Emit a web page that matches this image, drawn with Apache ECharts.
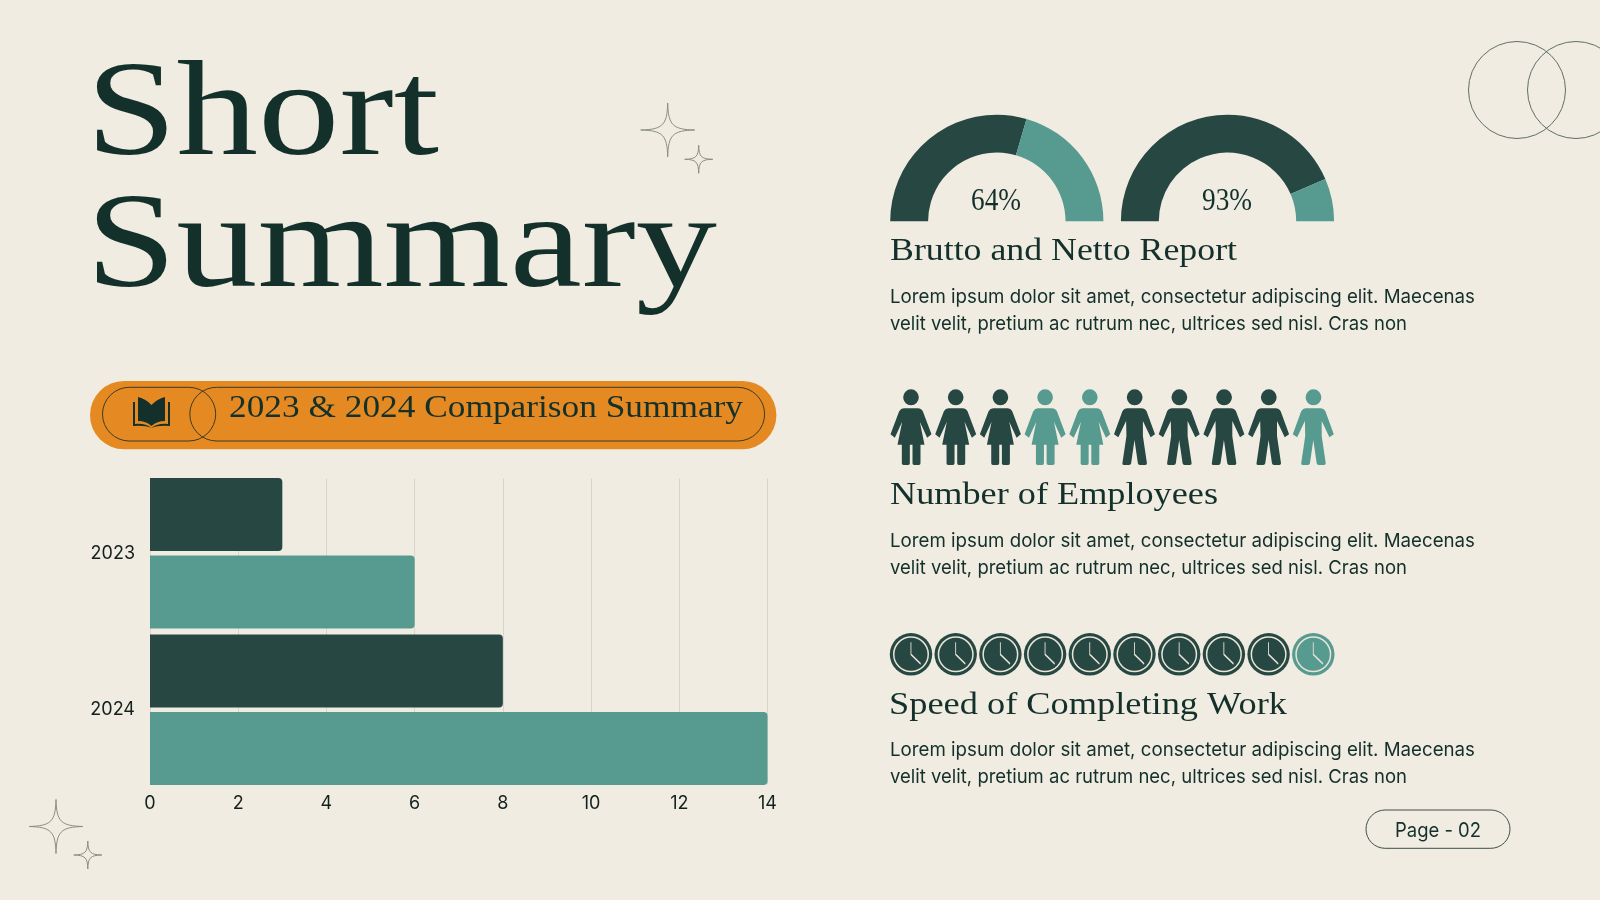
<!DOCTYPE html>
<html><head><meta charset="utf-8">
<style>html,body{margin:0;padding:0;background:#f1ece2}#c{width:1600px;height:900px}</style>
<script src="https://cdn.jsdelivr.net/npm/echarts@6/dist/echarts.min.js"></script>
</head><body><div id="c"></div>
<script>
// ---- data ----
var years = ['2023', '2024'];
var darkValues = [3, 8];
var lightValues = [6, 14];
var xTicksMax = 14;
var xTickStep = 2;
var gaugeOneValues = [59, 41];
var gaugeTwoValues = [87, 13];
var gaugeLabels = ['64%', '93%'];
var employeeKinds = ['f','f','f','f','f','m','m','m','m','m'];
var employeeShades = ['d','d','d','l','l','d','d','d','d','l'];
var clockShades = ['d','d','d','d','d','d','d','d','d','l'];
var titleLines = ['Short', 'Summary'];
var bannerText = '2023 & 2024 Comparison Summary';
var sectionHeads = ['Brutto and Netto Report', 'Number of Employees', 'Speed of Completing Work'];
var bodyLines = ['Lorem ipsum dolor sit amet, consectetur adipiscing elit. Maecenas', 'velit velit, pretium ac rutrum nec, ultrices sed nisl. Cras non'];
var pageLabel = 'Page - 02';

// ---- style ----
var DARK = '#274842', LIGHT = '#569A90', INK = '#13302B', PAPER = '#f1ece2', ORANGE = '#E58A23';
var SERIF = '"Liberation Serif"', SANS = 'Inter';
var shade = function (s) { return s === 'd' ? DARK : LIGHT; };
var HEAD = 'M38,24 a23.5,24 0 1,0 47,0 a23.5,24 0 1,0 -47,0 Z ';
var WOMAN = 'path://' + HEAD + 'M40,57 L82,57 Q92,57 97,66 L123,135 L110,145 L88,97 L102,166 L90,166 L90,222 Q90,227 85,227 L71,227 Q66,227 66,222 L66,166 L58,166 L58,222 Q58,227 53,227 L39,227 Q34,227 34,222 L34,166 L21,166 L35,97 L13,145 L0,135 L26,66 Q31,57 40,57 Z';
var MAN = 'path://' + HEAD + 'M40,57 L82,57 Q92,57 97,66 L122,135 L109,144 L86,95 L86,140 L98,222 Q98,227 93,227 L77,227 Q72,227 71,222 L61,152 L51,222 Q50,227 45,227 L29,227 Q24,227 25,222 L37,140 L36,95 L13,144 L0,135 L25,66 Q30,57 40,57 Z';
var SPARK = 'path://M27,0 C27.5,22 32,26.5 54,27 C32,27.5 27.5,32 27,54 C26.5,32 22,27.5 0,27 C22,26.5 26.5,22 27,0 Z';
var BOOK = 'path://M5,0 Q13,2 18.5,8 Q24,2 32,0 L32,24 Q24,24 18.5,29 Q13,24 5,24 Z M0,5 L2,5 L2,27 Q12,26 18.5,31 Q25,26 35,27 L35,5 L37,5 L37,29 Q25,28 18.5,31 Q12,28 0,29 Z';

var mc = document.createElement('canvas').getContext('2d');
function txt(s, x, base, size, family, target, fill, z) {
  var font = size + 'px ' + family;
  mc.font = font;
  var sx = target ? target / mc.measureText(s).width : 1;
  var k = family === SANS ? 0.8 : 0.78;
  return { type: 'text', x: x, y: base - k * size, scaleX: sx, z: z || 20,
    style: { text: s, x: 0, y: 0, font: font, fill: fill || INK } };
}
function capsule(x, y, w, h, stroke, lw, fill) {
  return { type: 'rect', z: 10, shape: { x: x, y: y, width: w, height: h, r: h / 2 }, style: { fill: fill || 'none', stroke: stroke, lineWidth: lw } };
}
function circle(cx, cy, r) {
  return { type: 'circle', z: 5, shape: { cx: cx, cy: cy, r: r }, style: { fill: 'none', stroke: '#5f6f68', lineWidth: 1 } };
}

var graphics = [
  circle(1517, 90, 48.5), circle(1576, 90, 48.5),
  txt(titleLines[0], 86, 156, 136, SERIF, 353),
  txt(titleLines[1], 86, 288.5, 136, SERIF, 631),
  { type: 'rect', z: 1, shape: { x: 90, y: 381, width: 686.4, height: 68.3, r: 34 }, style: { fill: ORANGE } },
  capsule(102.5, 387.3, 113.2, 53.7, '#3d3a22', 1),
  capsule(189.8, 387.3, 574.8, 53.7, '#3d3a22', 1),
  txt(bannerText, 229, 417.5, 32, SERIF, 514),
  txt(gaugeLabels[0], 971, 210.7, 31, SERIF, 50),
  txt(gaugeLabels[1], 1202, 210.7, 31, SERIF, 50),
  txt(sectionHeads[0], 890, 261, 31, SERIF, 347),
  txt(sectionHeads[1], 890, 505, 31, SERIF, 328),
  txt(sectionHeads[2], 889, 715, 31, SERIF, 398),
  txt(bodyLines[0], 890, 303, 19, SANS, 585),
  txt(bodyLines[1], 890, 330, 19, SANS, 517),
  txt(bodyLines[0], 890, 547, 19, SANS, 585),
  txt(bodyLines[1], 890, 574, 19, SANS, 517),
  txt(bodyLines[0], 890, 756, 19, SANS, 585),
  txt(bodyLines[1], 890, 783, 19, SANS, 517),
  capsule(1366, 810, 144, 38.3, '#3d4f49', 1),
  txt(pageLabel, 1395, 836.7, 20, SANS, 86)
];

function row(arr, fn) { return arr.map(function (s, i) { return fn(s, i); }); }
function gauge(cx, vals) {
  return { type: 'pie', center: [cx, 221.3], radius: [68.7, 106.6], startAngle: 180, endAngle: 0, clockwise: true,
    silent: true, label: { show: false }, labelLine: { show: false }, animation: false,
    data: [{ value: vals[0], itemStyle: { color: DARK } }, { value: vals[1], itemStyle: { color: LIGHT } }] };
}
var iconAxisX = function (g) { return { gridIndex: g, type: 'value', min: 1, max: 10, show: false }; };
var iconAxisY = function (g) { return { gridIndex: g, type: 'value', min: 0, max: 1, show: false }; };
function iconSeries(g, z, extra, data) {
  return Object.assign({ type: 'scatter', xAxisIndex: g, yAxisIndex: g, z: z, silent: true, animation: false, data: data }, extra);
}
// page-sized overlay used only for the decorative path ornaments
function ornament(symbol, cx, cy, w, h, style) {
  return { value: [cx, cy], symbol: symbol, symbolSize: [w, h], itemStyle: style };
}
var sparkStyle = { color: 'rgba(0,0,0,0)', borderColor: '#8b8e85', borderWidth: 1, opacity: 1 };

var chart = echarts.init(document.getElementById('c'), null, { renderer: 'canvas', width: 1600, height: 900 });
chart.setOption({
  backgroundColor: PAPER,
  animation: false,
  grid: [
    { left: 150, top: 478.5, width: 617.5, height: 306 },
    { left: 150, top: 475, width: 617.5, height: 313 },
    { left: 911, top: 389.3, width: 402.3, height: 75.7 },
    { left: 911, top: 633, width: 402.3, height: 42.6 },
    { left: 0, top: 0, width: 1600, height: 900 }
  ],
  xAxis: [
    { gridIndex: 0, type: 'value', min: 0, max: xTicksMax, interval: xTickStep,
      axisLine: { show: false }, axisTick: { show: false },
      splitLine: { show: true, lineStyle: { color: '#d9d5cb', width: 1 } },
      axisLabel: { color: '#14201d', fontFamily: SANS, fontSize: 18, margin: 10 } },
    { gridIndex: 1, type: 'value', min: 0, max: xTicksMax, show: false, splitLine: { show: false } },
    iconAxisX(2), iconAxisX(3),
    { gridIndex: 4, type: 'value', min: 0, max: 1600, show: false }
  ],
  yAxis: [
    { gridIndex: 0, type: 'category', data: years, show: false },
    { gridIndex: 1, type: 'category', data: years, inverse: true,
      axisLine: { show: false }, axisTick: { show: false },
      axisLabel: { color: '#14201d', fontFamily: SANS, fontSize: 18, margin: 15, padding: [3, 0, 0, 0] } },
    iconAxisY(2), iconAxisY(3),
    { gridIndex: 4, type: 'value', min: 0, max: 900, inverse: true, show: false }
  ],
  series: [
    { type: 'bar', xAxisIndex: 1, yAxisIndex: 1, data: darkValues, barWidth: 73, barGap: '6%', silent: true,
      itemStyle: { color: DARK, borderRadius: [0, 4, 4, 0] } },
    { type: 'bar', xAxisIndex: 1, yAxisIndex: 1, data: lightValues, barWidth: 73, barGap: '6%', silent: true,
      itemStyle: { color: LIGHT, borderRadius: [0, 4, 4, 0] } },
    gauge(996.8, gaugeOneValues),
    gauge(1227.5, gaugeTwoValues),
    iconSeries(2, 3, {}, row(employeeKinds, function (k, i) {
      return { value: [i + 1, 0.5], symbol: k === 'f' ? WOMAN : MAN, symbolSize: [41, 75.7], itemStyle: { color: shade(employeeShades[i]), opacity: 1 } };
    })),
    iconSeries(3, 3, { symbol: 'circle', symbolSize: 42.4 }, row(clockShades, function (s, i) {
      return { value: [i + 1, 0.5], itemStyle: { color: shade(s), opacity: 1 } };
    })),
    iconSeries(3, 4, { symbol: 'circle', symbolSize: 34.5, itemStyle: { color: 'rgba(0,0,0,0)', borderColor: '#e9e4d8', borderWidth: 1.5, opacity: 1 } },
      row(clockShades, function (s, i) { return [i + 1, 0.5]; })),
    iconSeries(3, 5, { symbol: 'path://M0,0 L0,36 L29,65', symbolSize: [9.7, 21.7], symbolOffset: [4.8, -1.2],
      itemStyle: { color: 'rgba(0,0,0,0)', borderColor: '#e9e4d8', borderWidth: 1.3, opacity: 1 } },
      row(clockShades, function (s, i) { return [i + 1, 0.5]; })),
    iconSeries(4, 30, {}, [
      ornament(SPARK, 667.7, 130, 54, 54, sparkStyle),
      ornament(SPARK, 698.7, 159.3, 28, 28, sparkStyle),
      ornament(SPARK, 56, 826.5, 54, 54, sparkStyle),
      ornament(SPARK, 87.8, 855, 28, 28, sparkStyle),
      ornament(BOOK, 151.5, 412.5, 37, 31, { color: INK, opacity: 1 })
    ])
  ],
  graphic: { elements: graphics }
});
</script></body></html>
